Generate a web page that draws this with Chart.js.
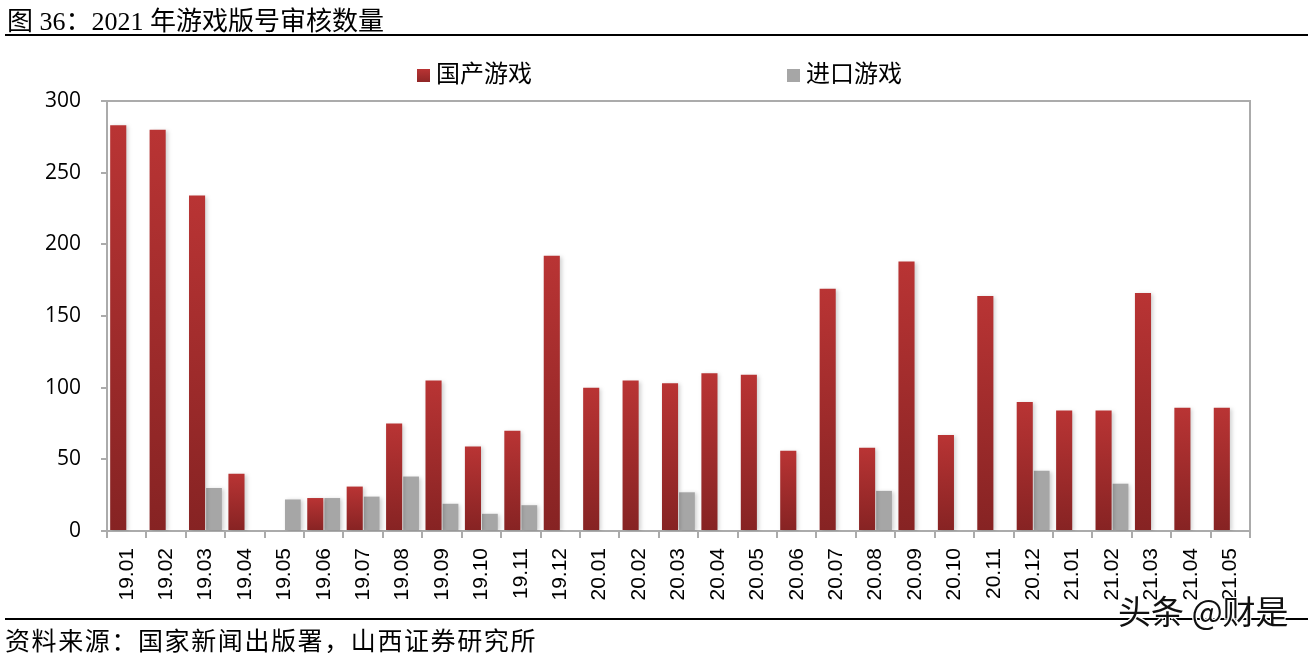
<!DOCTYPE html>
<html>
<head>
<meta charset="utf-8">
<script src="https://cdn.jsdelivr.net/npm/chart.js@4.4.1/dist/chart.umd.min.js"></script>
<style>
  html, body { margin: 0; padding: 0; background: #fff; }
  #wrap { position: relative; width: 1312px; height: 653px; overflow: hidden; }
  #chart { position: absolute; left: 0; top: 0; }
  .title { position: absolute; left: 7px; top: 0px; font: 26px "Liberation Serif", "Noto Sans CJK SC", serif; color: #000; white-space: nowrap; }
  .rule { position: absolute; left: 5px; width: 1303px; height: 2px; background: #000; }
  .source { position: absolute; left: 5px; top: 621px; font: 25px "Noto Sans CJK SC", sans-serif; letter-spacing: 1.6px; color: #000; white-space: nowrap; }
  .mark { position: absolute; left: 1118px; top: 586px; font: 33px "Noto Sans CJK SC", sans-serif; color: #111; white-space: nowrap;
          text-shadow: 1px 1px 0 #fff, -1px -1px 0 #fff, 1px -1px 0 #fff, -1px 1px 0 #fff; }
</style>
</head>
<body>
<div id="wrap">
  <canvas id="chart" width="1312" height="653"></canvas>
  <div class="title">图 36：2021 年游戏版号审核数量</div>
  <div class="rule" style="top:34px"></div>
  <div class="rule" style="top:618px"></div>
  <div class="source">资料来源：国家新闻出版署，山西证券研究所</div>
  <div class="mark">头条 @财是</div>
</div>
<script>
// months on the x axis
const months = ['19.01','19.02','19.03','19.04','19.05','19.06','19.07','19.08','19.09','19.10',
                '19.11','19.12','20.01','20.02','20.03','20.04','20.05','20.06','20.07','20.08',
                '20.09','20.10','20.11','20.12','21.01','21.02','21.03','21.04','21.05'];

// approvals per month
const domestic = [283, 280, 234, 40, 0, 23, 31, 75, 105, 59,
                  70, 192, 100, 105, 103, 110, 109, 56, 169, 58,
                  188, 67, 164, 90, 84, 84, 166, 86, 86];
const imported = [0, 0, 30, 0, 22, 23, 24, 38, 19, 12,
                  18, 0, 0, 0, 27, 0, 0, 0, 0, 28,
                  0, 0, 0, 42, 0, 33, 0, 0, 0];

const yTicks = [0, 50, 100, 150, 200, 250, 300];
const seriesNames = ['国产游戏', '进口游戏'];

const frameColor = '#ababab';

// red bars fade from lighter at top to darker at the base
function redGradient(ctx) {
    const chart = ctx.chart;
    const area = chart.chartArea;
    if (!area || ctx.parsed === undefined) return '#a52d2d';
    const top = chart.scales.y.getPixelForValue(ctx.parsed.y);
    if (!(area.bottom - top > 1)) return '#a52d2d';
    const g = chart.ctx.createLinearGradient(0, top, 0, area.bottom);
    g.addColorStop(0, '#b93434');
    g.addColorStop(1, '#862323');
    return g;
}

// frame around plot area + soft shadow under bars
const framePlugin = {
    id: 'frame',
    beforeDatasetsDraw(chart) {
        const { ctx, chartArea: a } = chart;
        ctx.save();
        ctx.strokeStyle = frameColor;
        ctx.lineWidth = 2;
        ctx.strokeRect(a.left, a.top, a.right - a.left, a.bottom - a.top);
        ctx.restore();
        ctx.save();
        ctx.shadowColor = 'rgba(0,0,0,0.18)';
        ctx.shadowBlur = 4;
        ctx.shadowOffsetX = 2;
        ctx.shadowOffsetY = 1;
    },
    afterDatasetsDraw(chart) {
        chart.ctx.restore();
    }
};

// legend spread wide like the original
const legendPlugin = {
    id: 'wideLegend',
    afterDraw(chart) {
        const ctx = chart.ctx;
        const spots = [417, 787];
        ctx.save();
        ctx.font = '24px "Liberation Serif", "Noto Sans CJK SC", serif';
        ctx.textBaseline = 'middle';
        chart.data.datasets.forEach((ds, i) => {
            const x = spots[i];
            if (i === 0) {
                const g = ctx.createLinearGradient(0, 69, 0, 82);
                g.addColorStop(0, '#b93434');
                g.addColorStop(1, '#8f2626');
                ctx.fillStyle = g;
            } else {
                ctx.fillStyle = ds.backgroundColor;
            }
            ctx.fillRect(x, 69, 13, 13);
            ctx.fillStyle = '#000';
            ctx.fillText(ds.label, x + 19, 76);
        });
        ctx.restore();
    }
};

new Chart(document.getElementById('chart'), {
    type: 'bar',
    data: {
        labels: months,
        datasets: [
            { label: seriesNames[0], data: domestic, backgroundColor: redGradient,
              categoryPercentage: 0.86, barPercentage: 0.95 },
            { label: seriesNames[1], data: imported, backgroundColor: '#a6a6a6',
              categoryPercentage: 0.86, barPercentage: 0.93 }
        ]
    },
    options: {
        responsive: false,
        animation: false,
        layout: { padding: { left: 0, top: 101, right: 62, bottom: 0 } },
        plugins: {
            legend: { display: false },
            tooltip: { enabled: false }
        },
        scales: {
            x: {
                grid: { drawOnChartArea: false, drawTicks: true, tickLength: 7, color: frameColor, lineWidth: 2, offset: true },
                border: { color: frameColor, width: 2 },
                ticks: {
                    minRotation: 90, maxRotation: 90, autoSkip: false, padding: 10,
                    color: '#000', font: { family: '"Liberation Sans", Arial, sans-serif', size: 21 }
                },
                afterFit(scale) { scale.height = 122; }
            },
            y: {
                min: 0, max: 300,
                afterBuildTicks(scale) { scale.ticks = yTicks.map(v => ({ value: v })); },
                grid: { drawOnChartArea: false, drawTicks: true, tickLength: 6, color: frameColor, lineWidth: 2 },
                border: { color: frameColor, width: 2 },
                ticks: {
                    padding: 20, color: '#000',
                    font: { family: '"Open Sans", "Liberation Sans", sans-serif', size: 21 }
                },
                afterFit(scale) { scale.width = 107; }
            }
        }
    },
    plugins: [framePlugin, legendPlugin]
});
</script>
</body>
</html>
